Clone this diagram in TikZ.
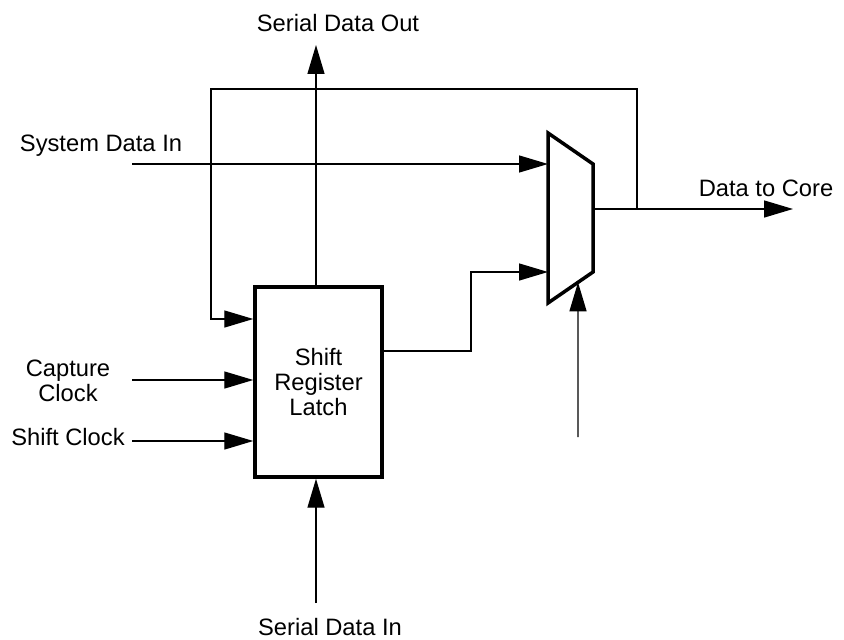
\documentclass[tikz,border=0pt]{standalone}
\usepackage{fontspec}
\setmainfont{Liberation Sans}
\usetikzlibrary{positioning,arrows.meta,calc}

\begin{document}
\begin{tikzpicture}[
  x=0.02cm,y=-0.02cm,
  font=\fontsize{13.5}{15.5}\selectfont,
  wire/.style={line width=0.8pt,line join=miter},
  sig/.style={wire,-{Triangle[length=0.58cm,width=0.34cm]}},
  blk/.style={draw,line width=2pt,line join=miter},
  reglatch/.style={blk,minimum width=2.54cm,minimum height=3.8cm,align=center,
                   inner sep=0pt},
  lbl/.style={align=center,inner sep=0pt},
]
\useasboundingbox (0,0) rectangle (844,639);

% shift register latch
\node[reglatch] (reg) at (318.5,382) {Shift\\[-1pt]Register\\[-1pt]Latch};

% multiplexer corners
\coordinate (muxTL) at (548,133);
\coordinate (muxTR) at (593,164);
\coordinate (muxBR) at (593,272);
\coordinate (muxBL) at (548,303);
\draw[blk] (muxTL)--(muxTR)--(muxBR)--(muxBL)--cycle;
\coordinate (muxIn1) at (548,164);
\coordinate (muxIn2) at (548,272);
\coordinate (muxOut) at (593,209);
\coordinate (muxSel) at ($(muxBL)!0.667!(muxBR)$);

% free ends of the wires
\coordinate (sysIn)  at (132,164);
\coordinate (capIn)  at (132,380);
\coordinate (shIn)   at (132,441);
\coordinate (fbIn)   at (211,319);
\coordinate (sdoEnd) at (316,45);
\coordinate (sdiEnd) at (316,603);
\coordinate (selEnd) at (578,437);
\coordinate (coreEnd) at (793,209);
\coordinate (tap)    at (637,209);
\coordinate (bend)   at (471,351);

% labels
\node[lbl] (sdoL)  at (338,23)  {Serial Data Out};
\node[lbl] (sysL)  at (101,146) {System Data In};
\node[lbl] (capL)  at (68,381)  {Capture\\[-1pt]Clock};
\node[lbl] (shL)   at (68,437)  {Shift Clock};
\node[lbl] (coreL) at (766,188) {Data to Core};
\node[lbl] (sdiL)  at (330,627) {Serial Data In};

% inputs to the latch
\draw[sig] (capIn) -- (reg.west |- capIn);
\draw[sig] (shIn)  -- (reg.west |- shIn);
\draw[sig] (sdiEnd) -- (reg.south -| sdiEnd);
\draw[sig] (reg.north -| sdoEnd) -- (sdoEnd);

% feedback from the mux output back to the latch
\draw[sig] (tap) |- (211,89) -- (fbIn) -- (reg.west |- fbIn);

% mux inputs and output
\draw[sig] (sysIn) -- (muxIn1);
\draw[sig] (reg.east |- bend) -- (bend) |- (muxIn2);
\draw[sig] (selEnd) -- (muxSel);
\draw[sig] (muxOut) -- (coreEnd);
\end{tikzpicture}
\end{document}
